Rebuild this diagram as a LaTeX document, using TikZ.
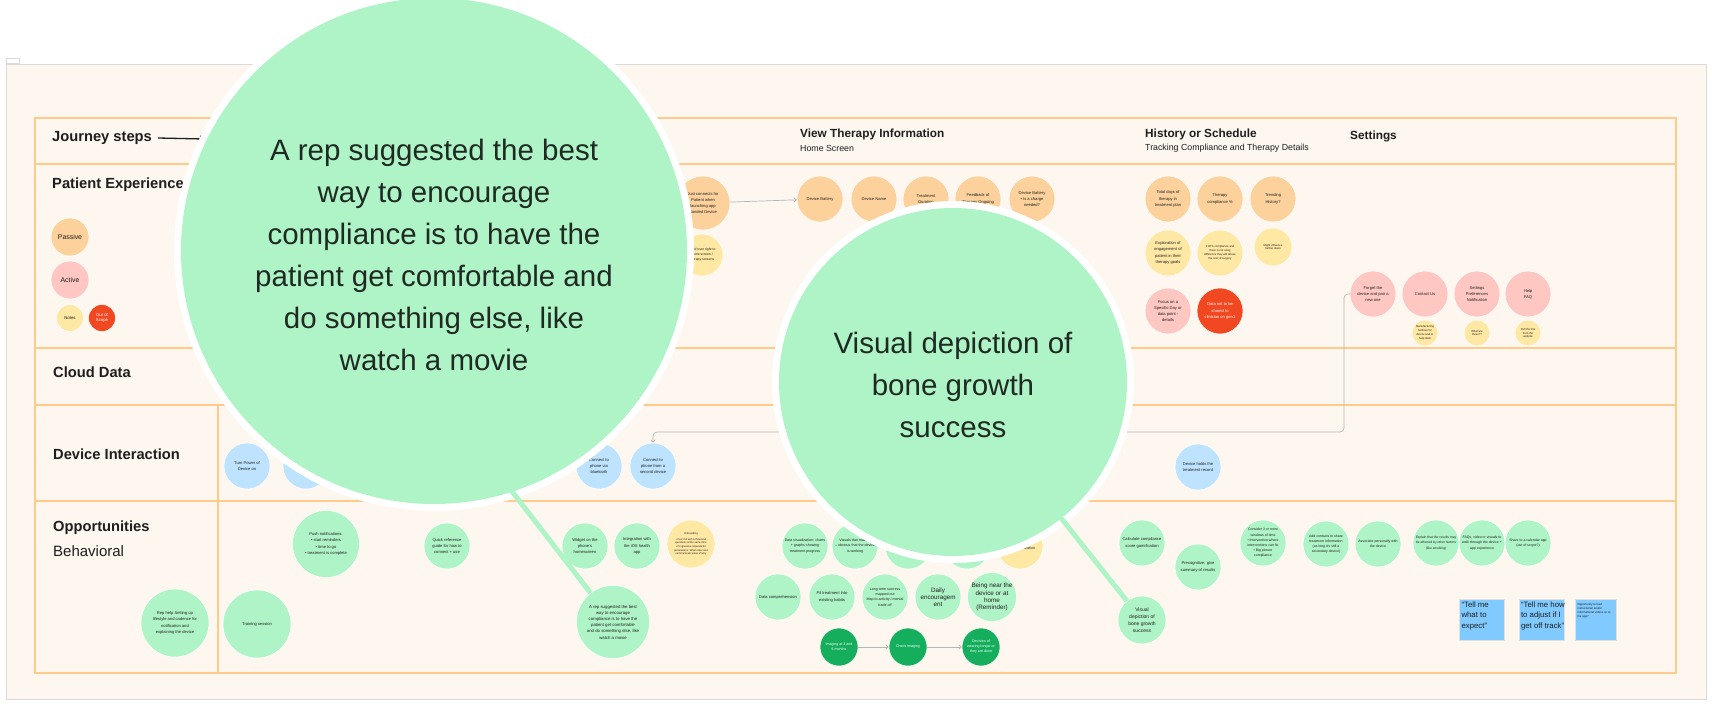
\documentclass[tikz,border=0pt]{standalone}
\usepackage{fontspec}
\setmainfont{Liberation Sans}
\usetikzlibrary{arrows.meta}
\definecolor{cream}{HTML}{FEF7F0}
\definecolor{frameg}{HTML}{DADADA}
\definecolor{tbl}{HTML}{FFCB8C}
\definecolor{passive}{HTML}{FCD19C}
\definecolor{active}{HTML}{FFC7C2}
\definecolor{note}{HTML}{FFE8A3}
\definecolor{oos}{HTML}{F24822}
\definecolor{cblu}{HTML}{BDE3FF}
\definecolor{cgrn}{HTML}{AFF4C6}
\definecolor{dgrn}{HTML}{14AE5C}
\definecolor{sticky}{HTML}{80CAFF}
\definecolor{txt}{HTML}{1E1E1E}
\definecolor{bigtxt}{HTML}{1F2A23}
\definecolor{conn}{HTML}{B5B5B5}
\newcommand\myfs[2]{\fontsize{#1}{#2}\selectfont}
\begin{document}
\begin{tikzpicture}[x=1pt,y=-1pt,
  bub/.style={circle, inner sep=0pt, align=center, draw=white, line width=0.5pt, text=txt, font=\myfs{4.1}{6.2}},
  b23/.style={bub, minimum size=46pt},
  pas/.style={fill=passive}, actv/.style={fill=active}, nte/.style={fill=note},
  oosc/.style={fill=oos, text=white}, cb/.style={fill=cblu}, cg/.style={fill=cgrn},
  dg/.style={bub, fill=dgrn, text=white, minimum size=38pt, font=\myfs{3.6}{5}},
  tiny/.style={font=\myfs{2.8}{3.9}},
  large/.style={font=\myfs{6.3}{7.1}},
  lbl/.style={anchor=west, inner sep=0pt, text=txt, font=\bfseries\myfs{14.7}{17}},
  lblr/.style={anchor=west, inner sep=0pt, text=txt, font=\myfs{15}{17}},
  hdr/.style={anchor=west, inner sep=0pt, text=txt, font=\bfseries\myfs{11.8}{14}},
  subh/.style={anchor=west, inner sep=0pt, text=txt, font=\myfs{8.8}{10}},
  tline/.style={draw=tbl, line width=1.3pt},
  arr/.style={draw=conn, line width=0.7pt, -{Straight Barb[length=2.5pt,width=4.5pt]}},
  stk/.style={fill=sticky, draw=black!12, line width=0.4pt, minimum width=45pt, minimum height=41pt, inner sep=0pt},
  stkt/.style={anchor=north west, inner sep=0pt, align=left, text=txt, font=\myfs{7.8}{10.2}},
  ring/.style={circle, fill=white, inner sep=0pt},
  bigc/.style={circle, fill=cgrn, inner sep=0pt},
  bigt/.style={align=center, inner sep=0pt, text=bigtxt, font=\myfs{29.5}{42}},
  tail/.style={draw=cgrn, line width=5pt}
]
\useasboundingbox (0,0) rectangle (1712,707);
\fill[white] (0,0) rectangle (1712,707);
% frame
\draw[draw=frameg, fill=cream, line width=0.8pt] (6,64) rectangle (1706,699);
\draw[draw=frameg, fill=white, line width=0.4pt] (6,58) rectangle (19,63);
% table
\draw[tline] (35,118) rectangle (1676,673);
\draw[tline] (35,164) -- (1676,164);
\draw[tline] (35,348) -- (1676,348);
\draw[tline] (35,405) -- (1676,405);
\draw[tline] (35,501) -- (1676,501);
\draw[tline] (218,405) -- (218,673);
% row labels
\node[lbl] (js) at (52,138) {Journey steps};
\coordinate (jsend) at (204,139);
\draw[line width=1.3pt, txt, -{Straight Barb[length=3pt,width=6pt]}] (js.east) ++(6,0) -- (jsend);
\node[lbl] (lpe) at (52,185) {Patient Experience};
\node[lbl] (lcd) at (53,372) {Cloud Data};
\node[lbl] (ldi) at (53,454) {Device Interaction};
\node[lbl] (lop) at (53,528) {Opportunities};
\node[lblr] (lbe) at (53,551) {Behavioral};
% column headers
\node[hdr] (hv) at (800,134) {View Therapy Information};
\node[subh] (hvs) at (800,148) {Home Screen};
\node[hdr] (hh) at (1145,134) {History or Schedule};
\node[subh] (hhs) at (1145,148) {Tracking Compliance and Therapy Details};
\node[hdr] (hs) at (1350,136) {Settings};
% legend
\node[bub, pas, minimum size=38pt, font=\myfs{6.9}{8}] (lgP) at (70,237) {Passive};
\node[bub, actv, minimum size=38pt, font=\myfs{6.9}{8}] (lgA) at (70,280) {Active};
\node[bub, nte, minimum size=27pt, font=\myfs{4.3}{5.5}] (lgN) at (70,318) {Notes};
\node[bub, oosc, minimum size=27pt, font=\myfs{4.3}{5.5}] (lgO) at (102,318) {Out of\\Scope};
% patient experience - home screen
\node[bub, pas, minimum size=54pt] (pe1) at (703,203) {Just connects for\\Patient when\\launching app\\Bonded Device};
\node[bub, nte, minimum size=42pt, font=\myfs{3.4}{5}] (pe2) at (702,255) {Send user right to\\home screen /\\therapy screens};
\node[b23, pas] (pe3) at (820,199) {Device Battery};
\node[b23, pas] (pe4) at (874,199) {Device Name};
\node[b23, pas] (pe5) at (926,199) {Treatment\\Duration};
\node[b23, pas] (pe6) at (978,199) {Feedback of\\Therapy Ongoing};
\node[b23, pas] (pe7) at (1032,199) {Device Battery\\• Is a charge\\needed?};
\draw[arr] (pe1) -- (pe3);
% history
\node[b23, pas] (h1) at (1168,199) {Total days of\\therapy in\\treatment plan};
\node[b23, pas] (h2) at (1220,199) {Therapy\\compliance \%};
\node[b23, pas] (h3) at (1273,199) {Trending\\History?};
\node[b23, nte] (h4) at (1168,253) {Exploration of\\engagement of\\patient in their\\therapy goals};
\node[b23, nte, tiny] (h5) at (1220,253) {If 90\% compliance and\\there is not a big\\difference they will refuse\\the cost of surgery};
\node[bub, nte, minimum size=38pt, tiny] (h6) at (1273,247) {Might influence\\further down};
\node[b23, actv] (h7) at (1168,311) {Focus on a\\Specific Day or\\data point -\\details};
\node[b23, oosc] (h8) at (1220,311) {Data not to be\\shared to\\clinician on gen1};
% settings
\node[b23, actv] (s1) at (1373,294) {Forget the\\device and pair a\\new one};
\node[b23, actv] (s2) at (1425,294) {Contact Us};
\node[b23, actv] (s3) at (1477,294) {Settings\\Preferences\\Notification};
\node[b23, actv] (s4) at (1528,294) {Help\\FAQ};
\node[bub, nte, minimum size=26pt, tiny] (s5) at (1425,333) {Manufacturing\\hotlines for\\device and or\\help desk};
\node[bub, nte, minimum size=26pt, tiny] (s6) at (1477,333) {What are\\these??};
\node[bub, nte, minimum size=26pt, tiny] (s7) at (1528,333) {Pull the link\\from the\\website};
% device interaction
\node[b23, cb] (d1) at (247,466) {Turn Power of\\Device on};
\node[b23, cb] (d2) at (306,466) {};
\node[b23, cb] (d3) at (599,466) {Connect to\\phone via\\bluetooth};
\node[b23, cb] (d4) at (653,466) {Connect to\\phone from a\\second device};
\node[b23, cb] (d5) at (1198,467) {Device holds the\\treatment record};
\draw[arr, rounded corners=4pt] (s1.west) -- (1344,294) -- (1344,432) -- (653,432) -- (d4.north);
% opportunities
\node[bub, cg, minimum size=68pt] (o1) at (175,623) {Rep help Setting up\\lifestyle and cadence for\\notification and\\explaining the device};
\node[bub, cg, minimum size=68pt] (o2) at (257,624) {Training session};
\node[bub, cg, minimum size=67pt] (o3) at (326,544) {Push notifications:\\• start reminders\\• time to go\\• treatment is complete};
\node[b23, cg] (o4) at (447,546) {Quick reference\\guide for how to\\connect + use};
\node[b23, cg] (o5) at (585,546) {Widget on the\\phone's\\homescreen};
\node[b23, cg] (o6) at (637,546) {Integration with\\the iOS health\\app};
\node[bub, nte, minimum size=48pt, font=\myfs{2.6}{3.7}] (o7) at (691,544) {Onboarding\\[2pt]• Don't hit with a thousand\\questions at the same time\\• Progressive requests for\\permissions: What order and\\communicate value of why};
\node[bub, cg, minimum size=73pt, font=\myfs{4.3}{6.2}] (o8) at (613,622) {A rep suggested the best\\way to encourage\\compliance is to have the\\patient get comfortable\\and do something else, like\\watch a movie};
\node[b23, cg, font=\myfs{3.6}{5.4}] (o9) at (805,546) {Data visualization: charts\\+ graphs showing\\treatment progress};
\node[b23, cg, font=\myfs{3.6}{5.4}] (o10) at (855,546) {Visuals that make it\\– obvious that the device\\is working};
\node[b23, cg] (o11) at (908,546) {};
\node[b23, cg] (o12) at (967,546) {};
\node[b23, nte, font=\myfs{3.6}{5.4}] (o13) at (1020,546) {Indicate length\\of therapy duration};
\node[b23, cg] (o14) at (778,597) {Data comprehension};
\node[b23, cg] (o15) at (832,597) {Fit treatment into\\existing habits};
\node[b23, cg, font=\myfs{3.6}{5.4}] (o16) at (885,597) {Long term success\\mapped out\\Map to activity / mental\\trade off};
\node[b23, cg, large] (o17) at (938,597) {Daily\\encouragem\\ent};
\node[b23, cg, large] (o18) at (992,597) {Being near the\\device or at\\home\\(Reminder)};
\node[dg] (o19) at (839,647) {Imaging at 3 and\\6 months};
\node[dg] (o20) at (908,647) {Check imaging};
\node[dg] (o21) at (981,647) {Decision of\\wearing longer or\\they are done};
\draw[arr] (o19) -- (o20);
\draw[arr] (o20) -- (o21);
\node[b23, cg] (o22) at (1142,543) {Calculate compliance\\score gamification};
\node[b23, cg] (o23) at (1198,567) {Precognitive: give\\summary of results};
\node[b23, cg, font=\myfs{3.5}{5.2}] (o24) at (1263,543) {Consider 3 or more\\windows of time\\• Intervention where\\interventions can fix\\• Big picture\\compliance};
\node[b23, cg, font=\myfs{3.5}{5.2}] (o25) at (1326,544) {Add contacts to share\\treatment information\\(as long it's still a\\secondary device)};
\node[b23, cg, font=\myfs{3.5}{5.2}] (o26) at (1378,544) {Associate personally with\\the device};
\node[b23, cg, font=\myfs{3.3}{5.2}] (o27) at (1436,543) {Explain that the results may\\be affected by other factors\\(like smoking)};
\node[b23, cg, font=\myfs{3.5}{5.2}] (o28) at (1482,543) {FAQs, video or visuals to\\walk through the device +\\app experience};
\node[b23, cg, font=\myfs{3.5}{5.2}] (o29) at (1528,543) {Share to a calendar app\\(out of scope?)};
\node[bub, cg, minimum size=48pt, font=\myfs{5}{7}] (o30) at (1142,620) {Visual\\depiction of\\bone growth\\success};
% sticky notes
\node[stk] (st1) at (1481.5,619.5) {};
\node[stkt] (st1t) at ([shift={(2.5,3)}]st1.north west) {“Tell me\\what to\\expect”};
\node[stk] (st2) at (1541.5,619.5) {};
\node[stkt] (st2t) at ([shift={(2,3)}]st2.north west) {“Tell me how\\to adjust if I\\get off track”};
\node[stk, minimum width=41pt] (st3) at (1595.5,619.5) {};
\node[stkt, font=\myfs{2.9}{4}] (st3t) at ([shift={(2.5,4)}]st3.north west) {Opportunity to load\\instructional and/or\\informational videos on to\\the app?};
% big callout A
\node[ring, minimum size=520pt] (ringA) at (434,251) {};
\coordinate (tA) at (480,450);
\draw[tail] (tA) -- (o8);
\node[bigc, minimum size=506pt] (bigA) at (434,251) {};
\node[bigt] (bigAt) at (434,255) {A rep suggested the best\\way to encourage\\compliance is to have the\\patient get comfortable and\\do something else, like\\watch a movie};
% big callout B
\node[ring, minimum size=362pt] (ringB) at (953,382) {};
\coordinate (tB) at (953,382);
\draw[tail] (tB) -- (o30);
\node[bigc, minimum size=348pt] (bigB) at (953,382) {};
\node[bigt] (bigBt) at (953,385) {Visual depiction of\\bone growth\\success};
\end{tikzpicture}
\end{document}
